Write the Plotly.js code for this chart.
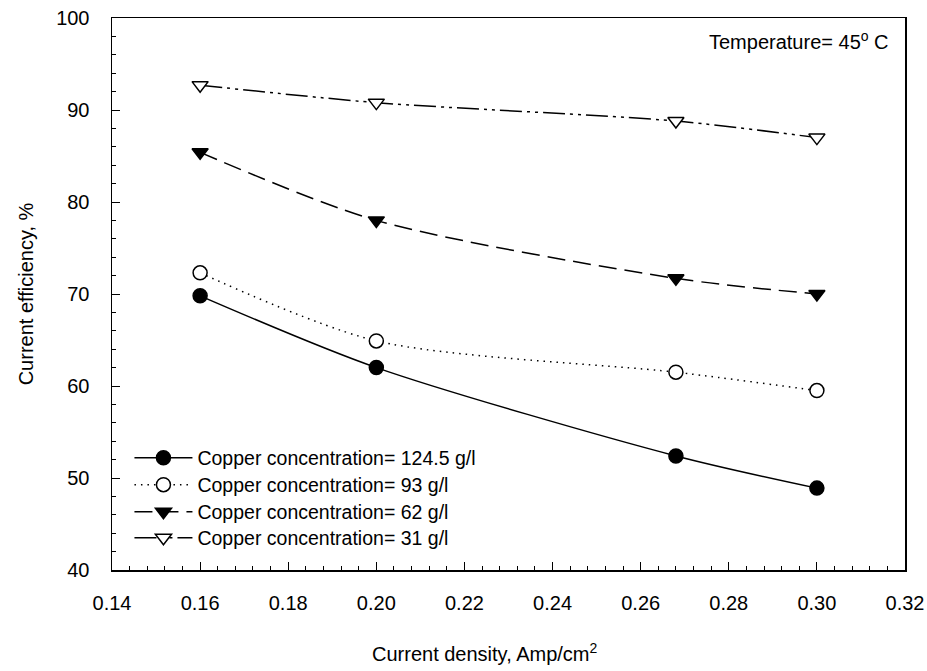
<!DOCTYPE html>
<html>
<head>
<meta charset="utf-8">
<script src="https://cdn.plot.ly/plotly-3.0.1.min.js"></script>
<style>html,body{margin:0;padding:0;background:#fff;}#chart{width:927px;height:671px;}</style>
</head>
<body>
<div id="chart"></div>
<script>
const currentDensity = [0.16, 0.20, 0.268, 0.30];
const eff124 = [69.8, 62.0, 52.4, 48.9];
const eff93 = [72.3, 64.9, 61.5, 59.5];
const eff62 = [85.4, 78.0, 71.7, 70.0];
const eff31 = [92.7, 90.8, 88.8, 87.0];
const seriesNames = [
  "Copper concentration= 124.5 g/l",
  "Copper concentration= 93 g/l",
  "Copper concentration= 62 g/l",
  "Copper concentration= 31 g/l"
];

const fontFam = "Liberation Sans, Arial, sans-serif";
function tr(y, name, dash, symbol, fill, leg) {
  return {
    x: currentDensity, y: y, name: name, type: 'scatter', mode: 'lines+markers', legend: leg,
    line: {color: '#000', width: 1.5, dash: dash, shape: 'spline', smoothing: 0.8},
    marker: {symbol: symbol, size: 14, color: fill, line: {color: '#000', width: 1.5}}
  };
}
const data = [
  tr(eff124, seriesNames[0], 'solid', 'circle', '#000', 'legend'),
  tr(eff93, seriesNames[1], '1.5px,5px', 'circle', '#fff', 'legend2'),
  tr(eff62, seriesNames[2], '18px,8px', 'triangle-down', '#000', 'legend3'),
  tr(eff31, seriesNames[3], '22px,5px,3px,5px,3px,5px', 'triangle-down', '#fff', 'legend4')
];

const plotTop = 18, plotBottom = 570;
function legAt(py) {
  return {x: 0.022, y: (plotBottom - py) / (plotBottom - plotTop), xanchor: 'left', yanchor: 'middle',
          bgcolor: 'rgba(0,0,0,0)', font: {size: 19.5}, itemwidth: 58, tracegroupgap: 0};
}

const layout = {
  width: 927, height: 671,
  margin: {l: 112, r: 22, t: 18, b: 101},
  paper_bgcolor: '#fff', plot_bgcolor: '#fff',
  font: {family: fontFam, size: 20, color: '#000'},
  showlegend: true,
  legend: legAt(458),
  legend2: legAt(485),
  legend3: legAt(512),
  legend4: legAt(538),
  xaxis: {
    range: [0.14, 0.32], dtick: 0.02, tick0: 0.14, tickformat: '.2f',
    showline: true, mirror: true, linecolor: '#000', linewidth: 1.5,
    ticks: 'inside', ticklen: 8, tickwidth: 1, tickcolor: '#000',
    showgrid: false, zeroline: false,
    minor: {dtick: 0.004, ticks: 'inside', ticklen: 4, tickwidth: 1, tickcolor: '#000', showgrid: false},
    tickfont: {size: 20}, ticklabelstandoff: 14
  },
  yaxis: {
    range: [40, 100], dtick: 10, tick0: 40,
    showline: true, mirror: true, linecolor: '#000', linewidth: 1.5,
    ticks: 'inside', ticklen: 8, tickwidth: 1, tickcolor: '#000',
    showgrid: false, zeroline: false,
    minor: {dtick: 2, ticks: 'inside', ticklen: 4, tickwidth: 1, tickcolor: '#000', showgrid: false},
    tickfont: {size: 20}, ticklabelstandoff: 17,
    title: {text: 'Current efficiency, %', font: {size: 20}, standoff: 17}
  },
  annotations: [{
    xref: 'paper', yref: 'paper', x: 0.982, y: 0.96, xanchor: 'right', yanchor: 'middle',
    text: 'Temperature= 45<sup>o</sup> C', showarrow: false, font: {size: 20}
  }, {
    xref: 'paper', yref: 'paper', x: (484 - 112) / 793, y: (570 - 652) / 552, xanchor: 'center', yanchor: 'middle',
    text: 'Current density, Amp/cm<sup>2</sup>', showarrow: false, font: {size: 20}
  }]
};
Plotly.newPlot('chart', data, layout, {displayModeBar: false, staticPlot: true});
</script>
</body>
</html>
